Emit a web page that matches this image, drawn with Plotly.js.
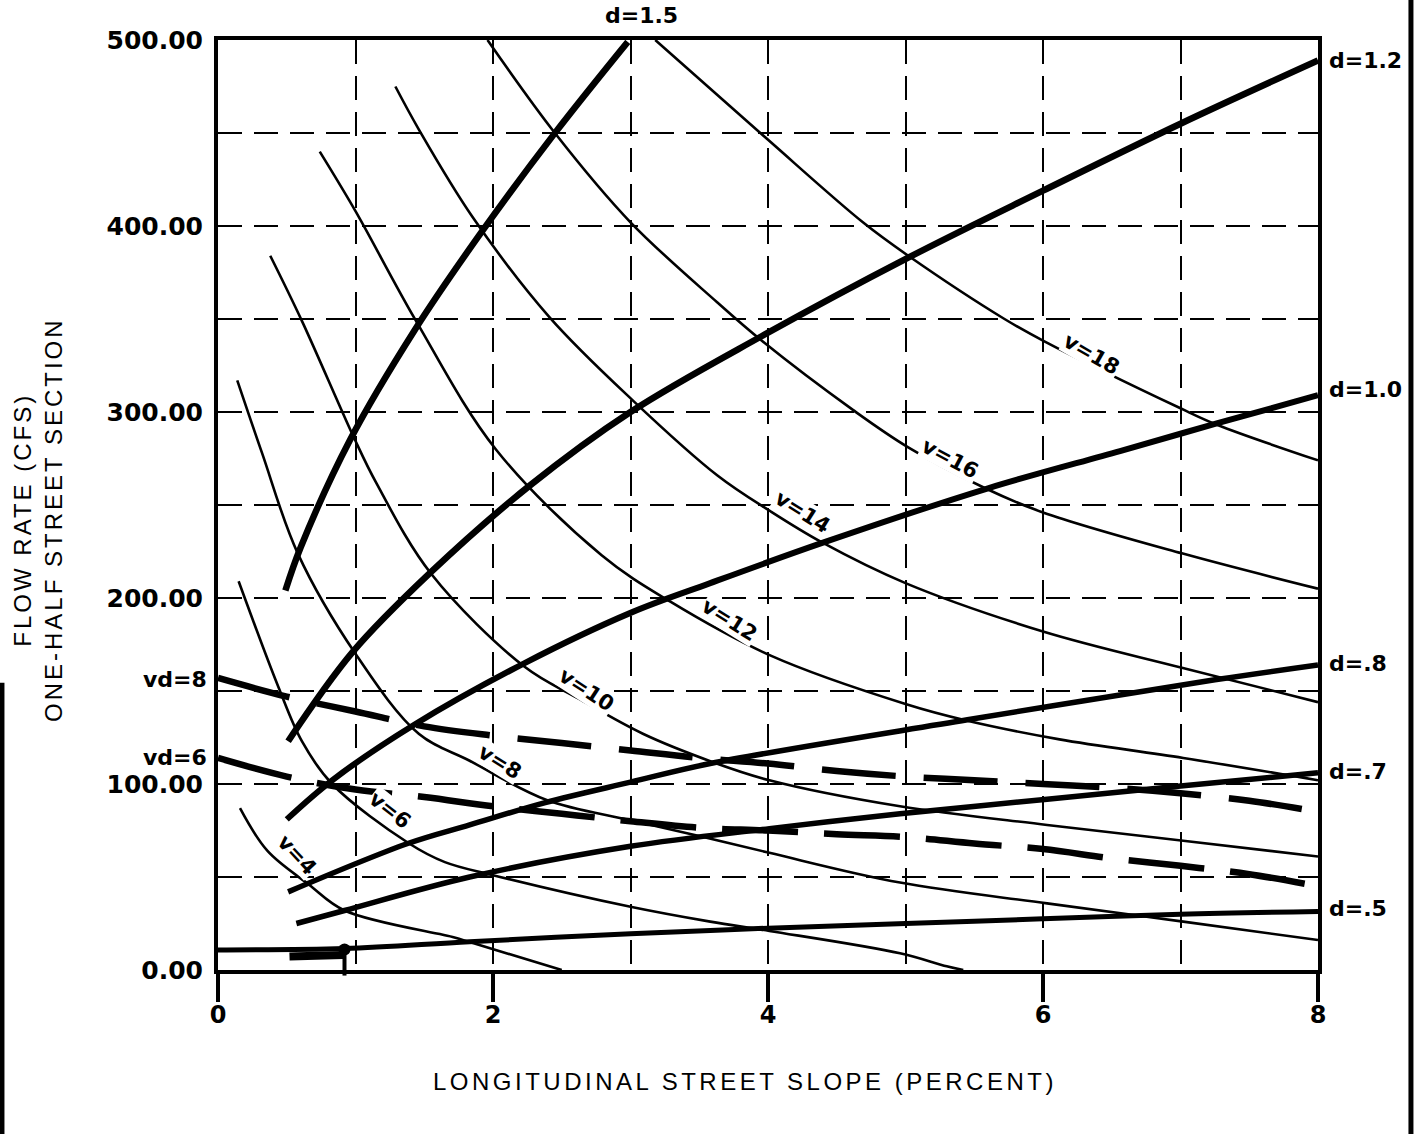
<!DOCTYPE html>
<html><head><meta charset="utf-8">
<script src="https://cdn.plot.ly/plotly-3.0.1.min.js"></script>
<style>
html,body{margin:0;padding:0;background:#fff;}
#chart{width:1416px;height:1134px;}
</style></head><body><div id="chart"></div>
<script>
// ---- data (x = slope %, y = flow cfs) ----
const slopeTicks = [0, 2, 4, 6, 8];
const flowTicks = [0, 100, 200, 300, 400, 500];
const xTitle = 'LONGITUDINAL STREET SLOPE (PERCENT)';
const yTitleLines = ['FLOW RATE (CFS)', 'ONE-HALF STREET SECTION'];

// depth curves (thick)
const d15_x = [0.49, 0.60, 0.96, 1.43, 1.89, 2.44, 2.98];
const d15_y = [204, 227, 285, 344, 394, 449, 499];
const d12_x = [0.51, 0.98, 1.55, 2.26, 3.00, 3.96, 5.02, 6.00, 7.00, 8.00];
const d12_y = [123, 171, 214, 260, 300, 341, 383, 419, 455, 489];
const d10_x = [0.50, 0.83, 1.43, 2.23, 3.00, 3.58, 4.41, 5.60, 6.56, 7.27, 8.00];
const d10_y = [81, 102, 132, 165, 192, 208, 230, 259, 279, 294, 309];
const d08_x = [0.51, 1.38, 1.83, 2.38, 3.00, 3.58, 5.45, 7.25, 8.00];
const d08_y = [42, 68, 78, 90, 101, 111, 134.5, 156, 164];
const d07_x = [0.57, 0.92, 1.83, 3.00, 4.01, 4.96, 6.03, 7.02, 8.00];
const d07_y = [25, 32, 50, 66.5, 76, 84, 91.8, 99, 106];
const d05_x = [0.00, 0.92, 1.83, 3.00, 4.00, 5.00, 6.00, 7.00, 8.00];
const d05_y = [10.8, 11.5, 15.2, 19.5, 22.5, 25, 27.5, 30, 31.5];
const stub_x = [0.52, 0.91];
const stub_y = [7.2, 8.1];
const dot_x = [0.92];
const dot_y = [11];

// velocity curves (thin)
const v4_x = [0.16, 0.36, 0.66, 0.92, 1.72, 1.83, 2.50];
const v4_y = [87, 64, 46, 32, 17.5, 15, 0];
const v6_x = [0.15, 0.44, 0.61, 0.83, 1.39, 1.65, 2.00, 3.00, 3.58, 4.01, 4.96, 5.30, 5.42];
const v6_y = [209, 152, 123, 100, 68, 58, 51, 34, 26, 21, 9, 2, 0];
const v8_x = [0.14, 0.32, 0.58, 1.00, 1.46, 1.83, 2.39, 3.00, 3.53, 4.01, 4.96, 6.03, 7.02, 8.00];
const v8_y = [317, 278, 224, 170, 127, 112.5, 91.4, 80.5, 71.5, 63, 47, 35.8, 26, 16.1];
const v10_x = [0.38, 0.61, 0.99, 1.15, 1.55, 2.23, 2.62, 3.09, 3.59, 4.01, 4.96, 6.03, 7.02, 8.00];
const v10_y = [384, 349, 286, 262, 213, 163, 146, 127, 112, 102, 88, 78, 69.5, 61];
const v12_x = [0.74, 1.00, 1.44, 2.02, 2.79, 3.29, 4.02, 5.00, 5.45, 6.12, 7.02, 8.00];
const v12_y = [440, 408, 349, 280, 223, 198, 169, 143, 134, 124, 114, 102];
const v14_x = [1.29, 1.46, 1.85, 2.41, 3.02, 3.63, 4.02, 4.39, 5.00, 6.00, 7.01, 8.00];
const v14_y = [475, 452, 405, 351, 306, 266, 246.5, 230, 208, 182, 162.5, 144];
const v16_x = [1.96, 2.45, 3.00, 3.63, 3.96, 4.62, 5.02, 5.58, 6.00, 7.01, 8.00];
const v16_y = [500, 450, 402, 359, 338, 301, 281, 259, 246, 224, 205];
const v18_x = [3.18, 3.99, 4.69, 5.02, 5.72, 6.01, 7.00, 7.27, 8.00];
const v18_y = [500, 447, 402, 384, 350, 338, 302, 293, 274];

// vd curves (thick dashed)
const vd_x = [0, 0.5, 1.0, 1.5, 2.0, 2.5, 3.0, 3.5, 4.0, 4.5, 5.0, 5.5, 6.0, 6.5, 7.0, 7.5, 8.0];
const vd8_y = [157, 147, 139, 131, 126, 122, 118, 114, 111, 107, 104, 102, 100, 98, 95, 91, 85];
const vd6_y = [114, 104, 97, 93, 88, 84, 80, 76.5, 75, 73, 71.5, 68, 65, 60, 56, 51.5, 45];

// ---- drawing ----
const K = '#000';
function curve(name, x, y, w, dash) {
  return {type: 'scatter', mode: 'lines', name: name, x: x, y: y,
    line: {color: K, width: w, shape: 'spline', smoothing: 1, dash: dash || 'solid'},
    hoverinfo: 'skip', showlegend: false};
}
const traces = [
  curve('v=4', v4_x, v4_y, 2.6), curve('v=6', v6_x, v6_y, 2.6), curve('v=8', v8_x, v8_y, 2.6),
  curve('v=10', v10_x, v10_y, 2.6), curve('v=12', v12_x, v12_y, 2.6), curve('v=14', v14_x, v14_y, 2.6),
  curve('v=16', v16_x, v16_y, 2.6), curve('v=18', v18_x, v18_y, 2.6),
  curve('vd=8', vd_x, vd8_y, 6.5, '74px,28px'), curve('vd=6', vd_x, vd6_y, 6.5, '76px,26px'),
  curve('d=1.5', d15_x, d15_y, 6.5), curve('d=1.2', d12_x, d12_y, 6.5), curve('d=1.0', d10_x, d10_y, 6),
  curve('d=.8', d08_x, d08_y, 5.5), curve('d=.7', d07_x, d07_y, 5.5), curve('d=.5', d05_x, d05_y, 5),
  curve('d=.5 stub', stub_x, stub_y, 8),
  {type: 'scatter', mode: 'markers', x: dot_x, y: dot_y, marker: {color: K, size: 12},
   hoverinfo: 'skip', showlegend: false, cliponaxis: false}
];

const bold = {family: 'DejaVu Sans, Arial, sans-serif', size: 22, weight: 'bold', color: K};
const labelFont = {family: 'DejaVu Sans, Arial, sans-serif', size: 21, weight: 'bold', color: K};
const titleFont = {family: 'Liberation Sans, Arial, sans-serif', size: 24, color: K};
function spaced(t, px) { return '<span style="letter-spacing:' + px + 'px">' + t + '</span>'; }
function side(text, x, y, anchor, shift) {
  return {text: text, x: x, y: y, xref: 'x', yref: 'y', xanchor: anchor, yanchor: 'middle',
    xshift: shift, showarrow: false, font: bold};
}
function onCurve(text, x, y, ang) {
  return {text: text, x: x, y: y, xref: 'x', yref: 'y', showarrow: false, textangle: ang,
    font: labelFont, bgcolor: '#fff', borderpad: 0};
}
const annotations = [
  side('d=1.2', 8, 489, 'left', 9), side('d=1.0', 8, 312, 'left', 9),
  side('d=.8', 8, 165, 'left', 9), side('d=.7', 8, 106.5, 'left', 9), side('d=.5', 8, 33, 'left', 9),
  side('vd=8', 0, 156, 'right', -9), side('vd=6', 0, 114.5, 'right', -9),
  {text: 'd=1.5', x: 3.08, y: 1.026, xref: 'x', yref: 'paper', showarrow: false, font: bold,
   xanchor: 'center', yanchor: 'middle'},
  onCurve('v=4', 0.575, 61.8, 47), onCurve('v=6', 1.25, 86, 38), onCurve('v=8', 2.05, 112, 32),
  onCurve('v=10', 2.68, 150.5, 33), onCurve('v=12', 3.72, 188, 32), onCurve('v=14', 4.25, 246, 32),
  onCurve('v=16', 5.33, 275, 28), onCurve('v=18', 6.35, 331, 30),
  // axis titles
  {text: spaced(xTitle, 3.5), x: 0.4791, y: -0.1194, xref: 'paper', yref: 'paper',
   xanchor: 'center', yanchor: 'middle', showarrow: false, font: titleFont},
  {text: spaced(yTitleLines[0], 3) + '<br>' + spaced(yTitleLines[1], 3), x: -0.1636, y: 0.4839,
   xref: 'paper', yref: 'paper', xanchor: 'center', yanchor: 'middle', showarrow: false,
   textangle: -90, font: titleFont}
];

const gridCommon = {showgrid: true, gridcolor: K, gridwidth: 2, griddash: '24px,12px'};
const layout = {
  width: 1416, height: 1134,
  margin: {l: 218, r: 98, t: 40, b: 164, pad: 0},
  paper_bgcolor: '#fff', plot_bgcolor: '#fff', showlegend: false,
  xaxis: Object.assign({
    range: [0, 8], tickvals: slopeTicks, ticks: 'outside', ticklen: 28, tickwidth: 4, tickcolor: K,
    showline: true, linewidth: 4, linecolor: K, mirror: true, zeroline: false, automargin: false,
    ticklabelstandoff: -8,
    tickfont: {family: 'DejaVu Sans, Arial, sans-serif', size: 24, weight: 'bold', color: K},
    minor: Object.assign({dtick: 1, tick0: 0, ticks: ''}, gridCommon),
    title: {text: ''}
  }, gridCommon),
  yaxis: Object.assign({
    range: [0, 500], tickvals: flowTicks, tickformat: '.2f', ticks: '',
    showline: true, linewidth: 4, linecolor: K, mirror: true, zeroline: false, automargin: false,
    ticklabelstandoff: 6,
    tickfont: {family: 'DejaVu Sans, Arial, sans-serif', size: 25, weight: 'bold', color: K},
    minor: Object.assign({dtick: 50, tick0: 0, ticks: ''}, gridCommon),
    title: {text: ''}
  }, gridCommon),
  annotations: annotations,
  shapes: [
    {type: 'line', xref: 'paper', yref: 'paper', x0: 0.115, x1: 0.115, y0: 0.024, y1: -0.006,
     line: {color: K, width: 4}},
    {type: 'line', xref: 'paper', yref: 'paper', x0: 1.0845, x1: 1.0845, y0: 1.05, y1: -0.18,
     line: {color: K, width: 5}},
    {type: 'line', xref: 'paper', yref: 'paper', x0: -0.1964, x1: -0.1964, y0: 0.309, y1: -0.18,
     line: {color: K, width: 5}}
  ]
};
Plotly.newPlot('chart', traces, layout, {staticPlot: true, displayModeBar: false});
</script></body></html>
